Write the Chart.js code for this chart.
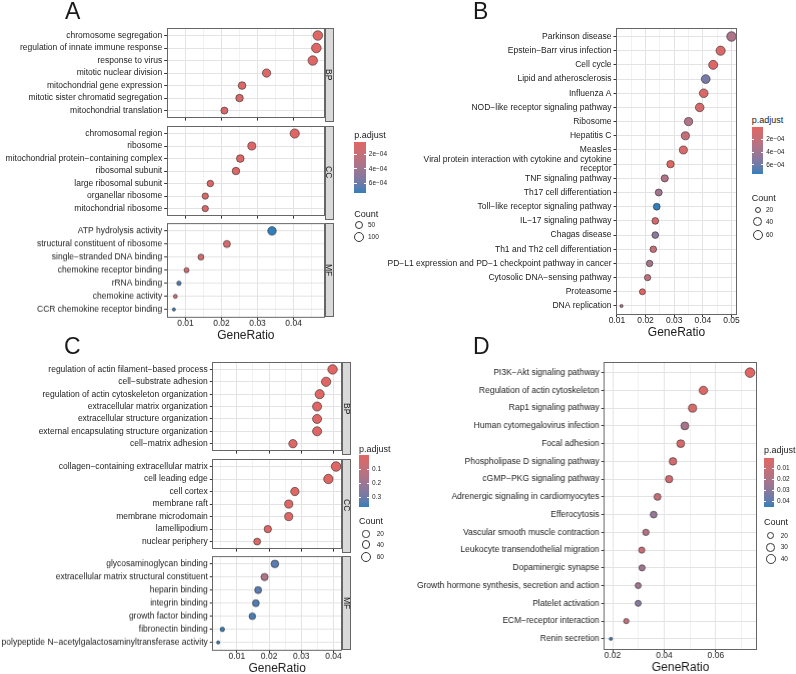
<!DOCTYPE html>
<html>
<head>
<meta charset="utf-8">
<script src="https://cdn.jsdelivr.net/npm/chart.js@4"></script>
<style>
body { margin: 0; background: #fff; }
#wrap { position: relative; width: 796px; height: 674px; overflow: hidden; font-family: 'Liberation Sans', Arial, sans-serif; color: #1a1a1a; }
#wrap canvas { position: absolute; }
.t { position: absolute; white-space: nowrap; line-height: 1; }
.box { position: absolute; box-sizing: border-box; }
</style>
</head>
<body>
<div id="wrap"></div>
<script>
// ---- panel A (GO) ----
const aBPTerms = ['chromosome segregation', 'regulation of innate immune response', 'response to virus', 'mitotic nuclear division', 'mitochondrial gene expression', 'mitotic sister chromatid segregation', 'mitochondrial translation'];
const aBPRatio = [0.0467, 0.0463, 0.0453, 0.0325, 0.0257, 0.0250, 0.0208];
const aBPCount = [103, 102, 100, 72, 57, 55, 46];
const aBPPadj = [2.6e-5, 3.5e-5, 4.0e-5, 5.0e-5, 6.0e-5, 7.0e-5, 9.0e-5];

const aCCTerms = ['chromosomal region', 'ribosome', 'mitochondrial protein\u2212containing complex', 'ribosomal subunit', 'large ribosomal subunit', 'organellar ribosome', 'mitochondrial ribosome'];
const aCCRatio = [0.0403, 0.0284, 0.0252, 0.0240, 0.0169, 0.0155, 0.0155];
const aCCCount = [93, 65, 58, 55, 39, 36, 36];
const aCCPadj = [3e-5, 4e-5, 5e-5, 5e-5, 6e-5, 7e-5, 7e-5];

const aMFTerms = ['ATP hydrolysis activity', 'structural constituent of ribosome', 'single\u2212stranded DNA binding', 'chemokine receptor binding', 'rRNA binding', 'chemokine activity', 'CCR chemokine receptor binding'];
const aMFRatio = [0.0340, 0.0215, 0.0143, 0.0103, 0.0082, 0.0072, 0.0068];
const aMFCount = [75, 47, 31, 22, 18, 16, 15];
const aMFPadj = [7.38e-4, 1.0e-4, 1.2e-4, 1.3e-4, 6.9e-4, 1.4e-4, 7.1e-4];

// ---- panel B (KEGG) ----
const bTerms = ['Parkinson disease', 'Epstein\u2212Barr virus infection', 'Cell cycle', 'Lipid and atherosclerosis', 'Influenza A', 'NOD\u2212like receptor signaling pathway', 'Ribosome', 'Hepatitis C', 'Measles', 'Viral protein interaction with cytokine and cytokine\nreceptor', 'TNF signaling pathway', 'Th17 cell differentiation', 'Toll\u2212like receptor signaling pathway', 'IL\u221217 signaling pathway', 'Chagas disease', 'Th1 and Th2 cell differentiation', 'PD\u2212L1 expression and PD\u22121 checkpoint pathway in cancer', 'Cytosolic DNA\u2212sensing pathway', 'Proteasome', 'DNA replication'];
const bRatio = [0.0500, 0.0462, 0.0436, 0.0410, 0.0403, 0.0389, 0.0350, 0.0339, 0.0332, 0.0287, 0.0267, 0.0246, 0.0239, 0.0234, 0.0234, 0.0227, 0.0214, 0.0207, 0.0189, 0.0116];
const bCount = [60, 55, 52, 49, 48, 47, 42, 41, 40, 34, 32, 30, 29, 28, 28, 27, 26, 25, 23, 14];
const bPadj = [3.2e-4, 5e-5, 3e-5, 5.8e-4, 4e-5, 8e-5, 3.0e-4, 1.8e-4, 6e-5, 2e-6, 3.0e-4, 3.8e-4, 7.47e-4, 6e-5, 4.8e-4, 1.6e-4, 3.6e-4, 2.0e-4, 1e-5, 2.8e-4];

// ---- panel C (GO) ----
const cBPTerms = ['regulation of actin filament\u2212based process', 'cell\u2212substrate adhesion', 'regulation of actin cytoskeleton organization', 'extracellular matrix organization', 'extracellular structure organization', 'external encapsulating structure organization', 'cell\u2212matrix adhesion'];
const cBPRatio = [0.0397, 0.0377, 0.0357, 0.0349, 0.0349, 0.0349, 0.0274];
const cBPCount = [60, 57, 54, 53, 53, 53, 42];
const cBPPadj = [0.0015, 0.002, 0.003, 0.004, 0.004, 0.004, 0.008];

const cCCTerms = ['collagen\u2212containing extracellular matrix', 'cell leading edge', 'cell cortex', 'membrane raft', 'membrane microdomain', 'lamellipodium', 'nuclear periphery'];
const cCCRatio = [0.0408, 0.0384, 0.0280, 0.0261, 0.0261, 0.0196, 0.0163];
const cCCCount = [62, 58, 42, 40, 40, 30, 25];
const cCCPadj = [0.0005, 0.001, 0.006, 0.008, 0.008, 0.012, 0.02];

const cMFTerms = ['glycosaminoglycan binding', 'extracellular matrix structural constituent', 'heparin binding', 'integrin binding', 'growth factor binding', 'fibronectin binding', 'polypeptide N\u2212acetylgalactosaminyltransferase activity'];
const cMFRatio = [0.0218, 0.0186, 0.0166, 0.0159, 0.0148, 0.0055, 0.0042];
const cMFCount = [33, 28, 25, 24, 22, 8, 6];
const cMFPadj = [0.33, 0.16, 0.33, 0.34, 0.35, 0.37, 0.36];

// ---- panel D (KEGG) ----
const dTerms = ['PI3K\u2212Akt signaling pathway', 'Regulation of actin cytoskeleton', 'Rap1 signaling pathway', 'Human cytomegalovirus infection', 'Focal adhesion', 'Phospholipase D signaling pathway', 'cGMP\u2212PKG signaling pathway', 'Adrenergic signaling in cardiomyocytes', 'Efferocytosis', 'Vascular smooth muscle contraction', 'Leukocyte transendothelial migration', 'Dopaminergic synapse', 'Growth hormone synthesis, secretion and action', 'Platelet activation', 'ECM\u2212receptor interaction', 'Renin secretion'];
const dRatio = [0.0733, 0.0552, 0.0510, 0.0480, 0.0464, 0.0434, 0.0419, 0.0374, 0.0359, 0.0329, 0.0313, 0.0314, 0.0299, 0.0299, 0.0253, 0.0193];
const dCount = [47, 35, 33, 31, 30, 28, 27, 24, 23, 21, 20, 20, 19, 19, 16, 12];
const dPadj = [0.0009, 0.003, 0.004, 0.022, 0.005, 0.006, 0.007, 0.011, 0.027, 0.018, 0.009, 0.024, 0.024, 0.031, 0.013, 0.0454];

// ---- axis ticks and legend breaks ----
const aTicks = [0.01, 0.02, 0.03, 0.04];
const bTicks = [0.01, 0.02, 0.03, 0.04, 0.05];
const cTicks = [0.01, 0.02, 0.03, 0.04];
const dTicks = [0.02, 0.04, 0.06];
const aPadjBreaks = [2e-4, 4e-4, 6e-4];
const aPadjLabels = ['2e\u221204', '4e\u221204', '6e\u221204'];
const bPadjBreaks = [2e-4, 4e-4, 6e-4];
const bPadjLabels = ['2e\u221204', '4e\u221204', '6e\u221204'];
const cPadjBreaks = [0.1, 0.2, 0.3];
const cPadjLabels = ['0.1', '0.2', '0.3'];
const dPadjBreaks = [0.01, 0.02, 0.03, 0.04];
const dPadjLabels = ['0.01', '0.02', '0.03', '0.04'];
const aCountBreaks = [50, 100];
const bCountBreaks = [20, 40, 60];
const cCountBreaks = [20, 40, 60];
const dCountBreaks = [20, 30, 40];

const LOW = '#e06663', HIGH = '#327eba';
const R_MIN = 1.6, R_MAX = 4.8;
const TXT = '#222';
const wrap = document.getElementById('wrap');
Chart.defaults.font.family = "'Liberation Sans', Arial, sans-serif";

// colour interpolation in Lab, like ggplot's gradient
function toLab(hex) {
  const c = [1, 3, 5].map(i => parseInt(hex.slice(i, i + 2), 16) / 255)
    .map(v => v <= 0.04045 ? v / 12.92 : Math.pow((v + 0.055) / 1.055, 2.4));
  const X = (0.4124 * c[0] + 0.3576 * c[1] + 0.1805 * c[2]) / 0.95047;
  const Y = 0.2126 * c[0] + 0.7152 * c[1] + 0.0722 * c[2];
  const Z = (0.0193 * c[0] + 0.1192 * c[1] + 0.9505 * c[2]) / 1.08883;
  const f = t => t > 0.008856 ? Math.cbrt(t) : 7.787 * t + 16 / 116;
  return [116 * f(Y) - 16, 500 * (f(X) - f(Y)), 200 * (f(Y) - f(Z))];
}
function fromLab(L, a, b) {
  const fy = (L + 16) / 116, fx = fy + a / 500, fz = fy - b / 200;
  const fi = t => t * t * t > 0.008856 ? t * t * t : (t - 16 / 116) / 7.787;
  const X = 0.95047 * fi(fx), Y = fi(fy), Z = 1.08883 * fi(fz);
  const rgb = [3.2406 * X - 1.5372 * Y - 0.4986 * Z, -0.9689 * X + 1.8758 * Y + 0.0415 * Z, 0.0557 * X - 0.2040 * Y + 1.0570 * Z]
    .map(v => v <= 0.0031308 ? 12.92 * v : 1.055 * Math.pow(v, 1 / 2.4) - 0.055)
    .map(v => Math.round(Math.min(1, Math.max(0, v)) * 255));
  return 'rgb(' + rgb.join(',') + ')';
}
const labLow = toLab(LOW), labHigh = toLab(HIGH);
function gradColor(t) {
  t = Math.min(1, Math.max(0, t));
  return fromLab(...labLow.map((v, i) => v + (labHigh[i] - v) * t));
}

function text(x, y, str, size, extra) {
  const d = document.createElement('div');
  d.className = 't';
  d.textContent = str;
  d.style.left = x + 'px';
  d.style.top = y + 'px';
  d.style.fontSize = size + 'px';
  d.style.transform = 'translateY(-50%)';
  Object.assign(d.style, extra || {});
  wrap.appendChild(d);
  return d;
}

function box(x, y, w, h, style) {
  const d = document.createElement('div');
  d.className = 'box';
  Object.assign(d.style, { left: x + 'px', top: y + 'px', width: w + 'px', height: h + 'px' }, style);
  wrap.appendChild(d);
  return d;
}

const frame = {
  id: 'frame',
  afterDraw(chart) {
    const a = chart.chartArea, ctx = chart.ctx;
    ctx.save();
    ctx.strokeStyle = '#666';
    ctx.lineWidth = 1;
    ctx.strokeRect(Math.round(a.left) + 0.5, Math.round(a.top) + 0.5, Math.round(a.right - a.left) - 1, Math.round(a.bottom - a.top) - 1);
    ctx.restore();
  }
};

function xRange(lists) {
  const all = [].concat(...lists);
  const lo = Math.min(...all), hi = Math.max(...all);
  return [lo - 0.05 * (hi - lo), hi + 0.05 * (hi - lo)];
}

function sizeFn(lists) {
  const all = [].concat(...lists);
  const lo = Math.min(...all), hi = Math.max(...all);
  return c => R_MIN + (R_MAX - R_MIN) * Math.sqrt(Math.max(0, (c - lo) / (hi - lo)));
}

function colorFn(lists) {
  const all = [].concat(...lists);
  const lo = Math.min(...all), hi = Math.max(...all);
  const f = v => gradColor((v - lo) / (hi - lo));
  f.lo = lo; f.hi = hi;
  return f;
}

// one facet = one bubble chart
function facet(p) {
  const PAD = 8, PADR = 14, XH = 25.5;
  const plotH = p.bottom - p.top;
  const w = p.right - p.x0 + PADR;
  const h = PAD + plotH + (p.showX ? XH + 2 : 3);
  const cv = document.createElement('canvas');
  cv.width = w; cv.height = h;
  Object.assign(cv.style, { left: p.x0 + 'px', top: (p.top - PAD) + 'px', width: w + 'px', height: h + 'px' });
  wrap.appendChild(cv);

  const step = p.ticks[1] - p.ticks[0], minor = step / 2;
  const isMajor = v => p.ticks.some(t => Math.abs(t - v) < 1e-9);
  const pts = p.ratio.map((v, i) => ({ x: v, y: i, r: p.size(p.count[i]) }));

  new Chart(cv, {
    type: 'bubble',
    data: { datasets: [{ data: pts, backgroundColor: p.padj.map(p.color), borderColor: '#2b2b2b', borderWidth: 0.6 }] },
    options: {
      responsive: false, animation: false, devicePixelRatio: 1, events: [],
      layout: { padding: { left: 0, top: PAD, right: PADR, bottom: p.showX ? 2 : 3 } },
      plugins: { legend: { display: false }, tooltip: { enabled: false } },
      scales: {
        x: {
          type: 'linear', min: p.xr[0], max: p.xr[1],
          afterBuildTicks: s => {
            const out = [];
            for (let k = Math.ceil(p.xr[0] / minor); k * minor <= p.xr[1] + 1e-12; k++) out.push({ value: +(k * minor).toFixed(6) });
            s.ticks = out;
          },
          afterFit: s => { s.height = p.showX ? XH : 0; },
          border: { display: false },
          grid: {
            color: c => (c.tick && isMajor(c.tick.value)) ? '#e3e3e3' : '#f1f1f1',
            drawTicks: p.showX, tickLength: 2.5,
            tickColor: c => (c.tick && isMajor(c.tick.value)) ? '#333' : 'rgba(0,0,0,0)'
          },
          ticks: {
            display: p.showX, autoSkip: false, maxRotation: 0, padding: -1.5, color: TXT, font: { size: 8.5 },
            callback: v => isMajor(v) ? String(+v.toFixed(4)) : ''
          },
          title: { display: p.showX, text: 'GeneRatio', color: '#1a1a1a', font: { size: 12 }, padding: 0 }
        },
        y: {
          type: 'linear', reverse: true, min: -0.6, max: p.terms.length - 0.4,
          afterBuildTicks: s => { s.ticks = p.terms.map((_, i) => ({ value: i })); },
          afterFit: s => { s.width = p.left - p.x0; },
          border: { display: false },
          grid: { color: '#e3e3e3', tickLength: 2.5, tickColor: '#333' },
          ticks: { autoSkip: false, padding: 2, color: TXT, font: { size: 8.5, lineHeight: 1.15 }, callback: v => p.terms[v].split('\n') }
        }
      }
    },
    plugins: [frame]
  });

  if (p.strip) {
    const s = box(p.right - 0.5, p.top, 9, plotH, { background: '#d9d9d9', border: '1px solid #666', display: 'flex', alignItems: 'center', justifyContent: 'center' });
    const t = document.createElement('div');
    t.textContent = p.strip;
    Object.assign(t.style, { writingMode: 'vertical-rl', fontSize: '8.5px', lineHeight: '1', color: '#1a1a1a' });
    s.appendChild(t);
  }
}

function colorbar(x, titleY, top, w, h, col, breaks, labels) {
  text(x, titleY, 'p.adjust', 9);
  const stops = [];
  for (let i = 0; i <= 10; i++) stops.push(gradColor(i / 10) + ' ' + (i * 10) + '%');
  box(x, top, w, h, { background: 'linear-gradient(to bottom, ' + stops.join(',') + ')' });
  breaks.forEach((v, i) => {
    const y = top + (v - col.lo) / (col.hi - col.lo) * h;
    box(x, y - 0.4, w / 5, 0.8, { background: '#fff' });
    box(x + w - w / 5, y - 0.4, w / 5, 0.8, { background: '#fff' });
    text(x + w + 3, y, labels[i], 6.5, { color: TXT });
  });
}

function sizeLegend(x, titleY, cx, ys, lx, size, breaks) {
  text(x, titleY, 'Count', 9);
  breaks.forEach((c, i) => {
    const r = size(c);
    box(cx - r - 0.4, ys[i] - r - 0.4, 2 * r + 0.8, 2 * r + 0.8, { border: '0.8px solid #333', borderRadius: '50%', background: '#fff' });
    text(lx, ys[i], String(c), 6.5, { color: TXT });
  });
}

// ---- A ----
{
  const xr = xRange([aBPRatio, aCCRatio, aMFRatio]);
  const size = sizeFn([aBPCount, aCCCount, aMFCount]);
  const color = colorFn([aBPPadj, aCCPadj, aMFPadj]);
  const base = { x0: 0, left: 166.7, right: 325, xr, size, color, ticks: aTicks };
  facet({ ...base, top: 28, bottom: 122, terms: aBPTerms, ratio: aBPRatio, count: aBPCount, padj: aBPPadj, strip: 'BP' });
  facet({ ...base, top: 125.5, bottom: 219.5, terms: aCCTerms, ratio: aCCRatio, count: aCCCount, padj: aCCPadj, strip: 'CC' });
  facet({ ...base, top: 223, bottom: 317, terms: aMFTerms, ratio: aMFRatio, count: aMFCount, padj: aMFPadj, strip: 'MF', showX: true });
  colorbar(354.3, 135, 141.7, 11.5, 51.6, color, aPadjBreaks, aPadjLabels);
  sizeLegend(354.3, 214, 358.7, [225, 236.7], 368, size, aCountBreaks);
  text(65, 10.5, 'A', 23);
}

// ---- B ----
{
  const xr = xRange([bRatio]);
  const size = sizeFn([bCount]);
  const color = colorFn([bPadj]);
  facet({ x0: 360, left: 616, right: 737.3, top: 28.3, bottom: 315, xr, size, color, ticks: bTicks, terms: bTerms, ratio: bRatio, count: bCount, padj: bPadj, showX: true });
  colorbar(751.7, 120, 126.7, 11.5, 47.3, color, bPadjBreaks, bPadjLabels);
  sizeLegend(751.7, 198.3, 757.7, [210, 221.7, 235], 766, size, bCountBreaks);
  text(473, 11, 'B', 23);
}

// ---- C ----
{
  const xr = xRange([cBPRatio, cCCRatio, cMFRatio]);
  const size = sizeFn([cBPCount, cCCCount, cMFCount]);
  const color = colorFn([cBPPadj, cCCPadj, cMFPadj]);
  const base = { x0: 0, left: 212.3, right: 342.3, xr, size, color, ticks: cTicks };
  facet({ ...base, top: 361.5, bottom: 455, terms: cBPTerms, ratio: cBPRatio, count: cBPCount, padj: cBPPadj, strip: 'BP' });
  facet({ ...base, top: 458.5, bottom: 552.5, terms: cCCTerms, ratio: cCCRatio, count: cCCCount, padj: cCCPadj, strip: 'CC' });
  facet({ ...base, top: 556, bottom: 650, terms: cMFTerms, ratio: cMFRatio, count: cMFCount, padj: cMFPadj, strip: 'MF', showX: true });
  colorbar(359, 449, 455, 10, 51.7, color, cPadjBreaks, cPadjLabels);
  sizeLegend(359, 521, 366, [534, 544.7, 557.3], 376.7, size, cCountBreaks);
  text(64, 345.5, 'C', 23);
}

// ---- D ----
{
  const xr = xRange([dRatio]);
  const size = sizeFn([dCount]);
  const color = colorFn([dPadj]);
  facet({ x0: 400, left: 603.3, right: 756.7, top: 361.7, bottom: 650, xr, size, color, ticks: dTicks, terms: dTerms, ratio: dRatio, count: dCount, padj: dPadj, showX: true });
  colorbar(764, 450, 458.3, 10, 49, color, dPadjBreaks, dPadjLabels);
  sizeLegend(764, 521.7, 770.7, [535.7, 547.3, 559.3], 780.7, size, dCountBreaks);
  text(473, 345.5, 'D', 23);
}
</script>
</body>
</html>
